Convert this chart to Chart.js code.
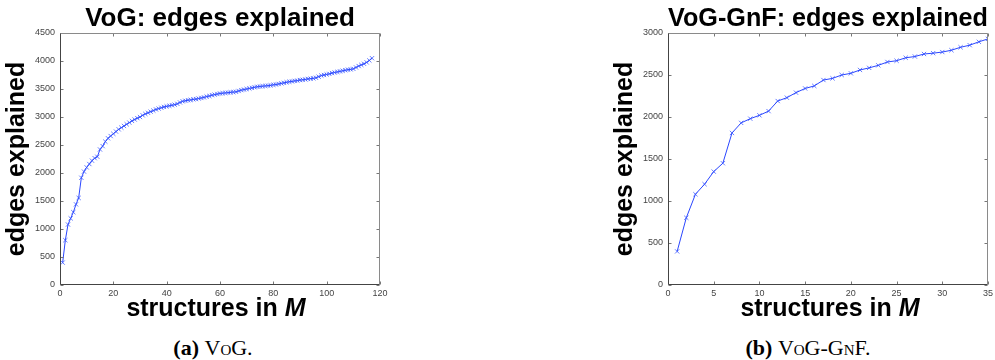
<!DOCTYPE html>
<html>
<head>
<meta charset="utf-8">
<script src="https://cdn.jsdelivr.net/npm/chart.js@4"></script>
<style>
  html, body { margin: 0; padding: 0; background: #fff; overflow: hidden; }
  body { position: relative; width: 995px; height: 360px; }
  canvas { position: absolute; top: 0; }
  #vogCanvas { left: 0; }
  #gnfCanvas { left: 590px; }
  .xtitle { position: absolute; width: 260px; text-align: center; font: bold 25px "Liberation Sans", Arial, sans-serif; line-height: 25px; top: 295px; color: #000; }
  .xtitle i { font-style: italic; }
  .caption { position: absolute; width: 240px; text-align: center; font: 22px "Liberation Serif", "Times New Roman", serif; line-height: 22px; top: 337px; color: #000; }
  .caption span { font-variant: small-caps; }
</style>
</head>
<body>
<canvas id="vogCanvas" width="440" height="310"></canvas>
<canvas id="gnfCanvas" width="476" height="310"></canvas>
<div class="xtitle" style="left:86px">structures in <i>M</i></div>
<div class="xtitle" style="left:700px">structures in <i>M</i></div>
<div class="caption" style="left:93px"><b>(a)</b> <span>VoG.</span></div>
<div class="caption" style="left:688px"><b>(b)</b> <span>VoG-GnF.</span></div>
<script>
// edges explained after adding each structure
const vogEdges = [
  400, 800, 1080, 1190, 1300, 1440, 1555, 1915, 2025, 2100,
  2160, 2220, 2265, 2290, 2420, 2480, 2560, 2620, 2660, 2700,
  2740, 2780, 2810, 2840, 2870, 2900, 2930, 2955, 2980, 3000,
  3030, 3055, 3075, 3095, 3115, 3135, 3150, 3165, 3180, 3190,
  3200, 3210, 3220, 3235, 3260, 3280, 3290, 3300, 3305, 3315,
  3320, 3330, 3340, 3350, 3365, 3375, 3390, 3400, 3410, 3420,
  3425, 3430, 3435, 3440, 3445, 3450, 3465, 3480, 3490, 3500,
  3510, 3520, 3530, 3540, 3545, 3550, 3555, 3560, 3565, 3575,
  3580, 3590, 3600, 3610, 3620, 3630, 3635, 3645, 3650, 3660,
  3665, 3670, 3680, 3685, 3690, 3700, 3720, 3740, 3750, 3760,
  3770, 3785, 3795, 3805, 3815, 3825, 3835, 3845, 3850, 3860,
  3885, 3910, 3930, 3950, 3975, 4010, 4050
];
const gnfEdges = [
  400, 800, 1080, 1200, 1350, 1450, 1810, 1930, 1980, 2020,
  2070, 2190, 2230, 2290, 2340, 2370, 2440, 2460, 2500, 2520,
  2560, 2585, 2615, 2655, 2670, 2705, 2720, 2750, 2760, 2773,
  2795, 2830, 2855, 2895, 2930
];
const vogXTicks = [0, 20, 40, 60, 80, 100, 120];
const vogYTicks = [0, 500, 1000, 1500, 2000, 2500, 3000, 3500, 4000, 4500];
const gnfXTicks = [0, 5, 10, 15, 20, 25, 30, 35];
const gnfYTicks = [0, 500, 1000, 1500, 2000, 2500, 3000];

const sans = '"Liberation Sans", Arial, sans-serif';

// matlab-like box with inward ticks on all four sides
const matlabAxes = {
  id: 'matlabAxes',
  afterDraw(chart) {
    const { ctx, chartArea: a, scales: { x, y } } = chart;
    const L = a.left + 0.5, R = a.right - 0.5, T = a.top + 0.5, B = a.bottom - 0.5;
    ctx.save();
    ctx.lineWidth = 1;
    ctx.strokeStyle = '#777';
    ctx.beginPath();
    x.ticks.forEach(t => {
      const px = Math.round(x.getPixelForValue(t.value)) + 0.5;
      ctx.moveTo(px, B); ctx.lineTo(px, B - 3);
      ctx.moveTo(px, T); ctx.lineTo(px, T + 3);
    });
    y.ticks.forEach(t => {
      const py = Math.round(y.getPixelForValue(t.value)) + 0.5;
      ctx.moveTo(L, py); ctx.lineTo(L + 3, py);
      ctx.moveTo(R, py); ctx.lineTo(R - 3, py);
    });
    ctx.stroke();
    ctx.strokeStyle = '#8a8a8a';
    ctx.beginPath();
    ctx.moveTo(L, T); ctx.lineTo(R, T); ctx.lineTo(R, B);
    ctx.stroke();
    ctx.strokeStyle = '#444';
    ctx.beginPath();
    ctx.moveTo(L, T); ctx.lineTo(L, B); ctx.lineTo(R, B);
    ctx.stroke();
    ctx.restore();
  }
};

function makeChart(id, title, values, xTicks, yTicks, axisWidth, rightPad, yTitlePad) {
  const pts = values.map((v, i) => ({ x: i + 1, y: v }));
  return new Chart(document.getElementById(id), {
    type: 'line',
    data: {
      datasets: [{
        data: pts,
        borderColor: '#2a46ff',
        borderWidth: 1,
        pointStyle: 'crossRot',
        pointRadius: 3,
        pointBorderWidth: 1,
        pointBorderColor: 'rgba(50,80,255,0.75)',
        pointBackgroundColor: 'rgba(0,0,0,0)',
        tension: 0
      }]
    },
    options: {
      responsive: false,
      animation: false,
      devicePixelRatio: 1,
      layout: { padding: { left: 0, right: rightPad, top: 0, bottom: 0 } },
      plugins: {
        legend: { display: false },
        tooltip: { enabled: false },
        title: {
          display: true,
          fullSize: false,
          text: title,
          color: '#000',
          font: { family: sans, size: 26, weight: 'bold', lineHeight: 1.0 },
          padding: { top: 6, bottom: 1 }
        }
      },
      scales: {
        x: {
          type: 'linear',
          min: xTicks[0],
          max: xTicks[xTicks.length - 1],
          grid: { display: false, drawTicks: false },
          border: { display: false },
          afterBuildTicks: s => { s.ticks = xTicks.map(v => ({ value: v })); },
          afterFit: s => { s.height = 25; },
          ticks: {
            autoSkip: false,
            maxRotation: 0,
            padding: 3,
            color: '#444',
            font: { family: sans, size: 9 },
            callback: v => String(v)
          }
        },
        y: {
          min: yTicks[0],
          max: yTicks[yTicks.length - 1],
          grid: { display: false, drawTicks: false },
          border: { display: false },
          afterBuildTicks: s => { s.ticks = yTicks.map(v => ({ value: v })); },
          afterFit: s => { s.width = axisWidth; },
          ticks: {
            padding: 5,
            color: '#444',
            font: { family: sans, size: 9 },
            callback: v => String(v)
          },
          title: {
            display: true,
            text: 'edges explained',
            color: '#000',
            font: { family: sans, size: 25, weight: 'bold' },
            padding: { top: yTitlePad, bottom: 0 }
          }
        }
      }
    },
    plugins: [matlabAxes]
  });
}

makeChart('vogCanvas', 'VoG: edges explained', vogEdges, vogXTicks, vogYTicks, 60, 60, 2);
makeChart('gnfCanvas', 'VoG-GnF: edges explained', gnfEdges, gnfXTicks, gnfYTicks, 78, 78, 20);
</script>
</body>
</html>
